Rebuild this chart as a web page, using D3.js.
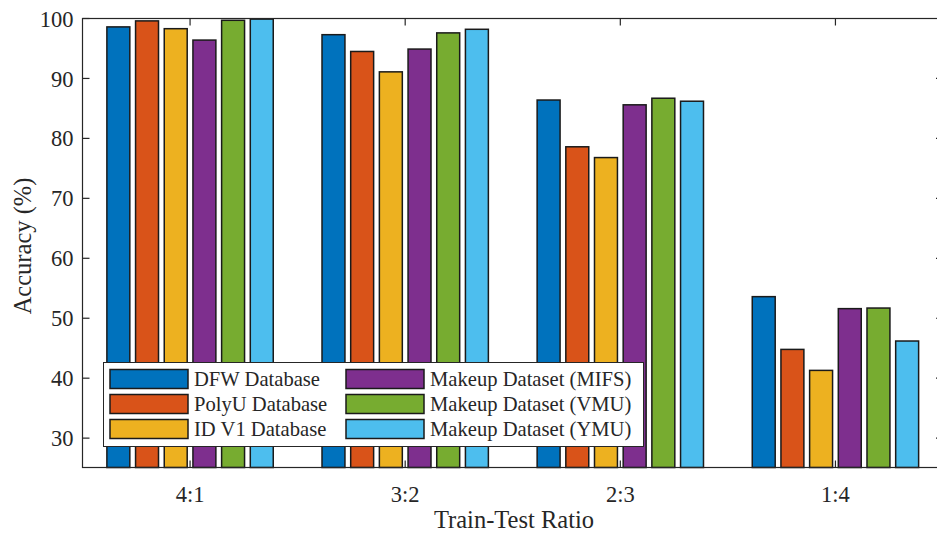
<!DOCTYPE html>
<html lang="en">
<head>
    <meta charset="UTF-8">
    <title>Accuracy vs Train-Test Ratio</title>
    <script src="https://d3js.org/d3.v7.min.js"></script>
    <style>
        body { margin: 0; background: #fff; }
        svg text { font-family: 'Liberation Serif', 'Times New Roman', serif; fill: #262626; }
    </style>
</head>
<body>
    <div id="chart"></div>

    <script>
        // chart data
        const ratios = ["4:1", "3:2", "2:3", "1:4"];
        const seriesNames = [
            "DFW Database", "PolyU Database", "ID V1 Database",
            "Makeup Dataset (MIFS)", "Makeup Dataset (VMU)", "Makeup Dataset (YMU)"
        ];
        const dfw   = [98.6, 97.3, 86.4, 53.6];
        const polyu = [99.6, 94.5, 78.6, 44.8];
        const idv1  = [98.3, 91.1, 76.8, 41.3];
        const mifs  = [96.4, 94.9, 85.6, 51.6];
        const vmu   = [99.7, 97.6, 86.7, 51.7];
        const ymu   = [99.9, 98.2, 86.2, 46.2];
        const yTicks = [30, 40, 50, 60, 70, 80, 90, 100];

        const series = [dfw, polyu, idv1, mifs, vmu, ymu];
        const colors = ["#0072BD", "#D95319", "#EDB120", "#7E2F8E", "#77AC30", "#4DBEEE"];

        const width = 937, height = 535;
        const plotL = 82.5, plotR = 943, plotT = 18.5, plotB = 467.5;

        const svg = d3.select("#chart").append("svg")
            .attr("width", width)
            .attr("height", height);

        const x = d3.scaleLinear().domain([0.5, 4.5]).range([plotL, plotR]);
        const y = d3.scaleLinear().domain([25.1, 100]).range([plotB, plotT]);

        // matlab style grouped bars: group width 0.8, bar width 0.8 of slot
        const slot = 0.8 / series.length;
        const barW = x(slot * 0.8) - x(0);

        const bars = svg.append("g");
        series.forEach((vals, s) => {
            bars.selectAll(null)
                .data(vals)
                .enter().append("rect")
                .attr("x", (d, i) => x(i + 1 - 0.4 + slot * (s + 0.5)) - barW / 2)
                .attr("y", d => y(d))
                .attr("width", barW)
                .attr("height", d => y(25.1) - y(d))
                .attr("fill", colors[s])
                .attr("stroke", "#1a1a1a")
                .attr("stroke-width", 1.5);
        });

        // axes box (right edge runs off the page)
        const axisCol = "#262626";
        svg.append("rect")
            .attr("x", plotL).attr("y", plotT)
            .attr("width", plotR - plotL).attr("height", plotB - plotT)
            .attr("fill", "none")
            .attr("stroke", axisCol)
            .attr("stroke-width", 1.2);

        // y ticks both sides
        const tl = 7;
        yTicks.forEach(t => {
            svg.append("line")
                .attr("x1", plotL).attr("x2", plotL + tl)
                .attr("y1", y(t)).attr("y2", y(t))
                .attr("stroke", axisCol).attr("stroke-width", 1.2);
            svg.append("line")
                .attr("x1", plotR).attr("x2", plotR - tl)
                .attr("y1", y(t)).attr("y2", y(t))
                .attr("stroke", axisCol).attr("stroke-width", 1.2);
            svg.append("text")
                .attr("x", plotL - 9)
                .attr("y", y(t))
                .attr("dy", "0.36em")
                .attr("text-anchor", "end")
                .attr("font-size", 22.5)
                .text(t);
        });

        // x ticks top and bottom
        ratios.forEach((r, i) => {
            const cx = x(i + 1);
            svg.append("line")
                .attr("x1", cx).attr("x2", cx).attr("y1", plotT).attr("y2", plotT + tl)
                .attr("stroke", axisCol).attr("stroke-width", 1.2);
            svg.append("line")
                .attr("x1", cx).attr("x2", cx).attr("y1", plotB).attr("y2", plotB - tl)
                .attr("stroke", axisCol).attr("stroke-width", 1.2);
            svg.append("text")
                .attr("x", cx)
                .attr("y", 502)
                .attr("text-anchor", "middle")
                .attr("font-size", 22.5)
                .text(r);
        });

        // axis titles
        svg.append("text")
            .attr("x", 514)
            .attr("y", 528)
            .attr("text-anchor", "middle")
            .attr("font-size", 24.5)
            .text("Train-Test Ratio");
        svg.append("text")
            .attr("transform", "translate(31,246) rotate(-90)")
            .attr("text-anchor", "middle")
            .attr("font-size", 24.5)
            .text("Accuracy (%)");

        // legend
        const legend = svg.append("g");
        legend.append("rect")
            .attr("x", 103.5).attr("y", 362.5)
            .attr("width", 540).attr("height", 84)
            .attr("fill", "#fff")
            .attr("stroke", axisCol)
            .attr("stroke-width", 1);
        const colX = [110, 346];
        const rowY = [379, 404, 429];
        seriesNames.forEach((name, i) => {
            const cx = colX[Math.floor(i / 3)];
            const cy = rowY[i % 3];
            legend.append("rect")
                .attr("x", cx).attr("y", cy - 9.5)
                .attr("width", 78).attr("height", 19)
                .attr("fill", colors[i])
                .attr("stroke", "#1a1a1a")
                .attr("stroke-width", 1.5);
            legend.append("text")
                .attr("x", cx + 84)
                .attr("y", cy + 7)
                .attr("font-size", 20.6)
                .text(name);
        });
    </script>
</body>
</html>
